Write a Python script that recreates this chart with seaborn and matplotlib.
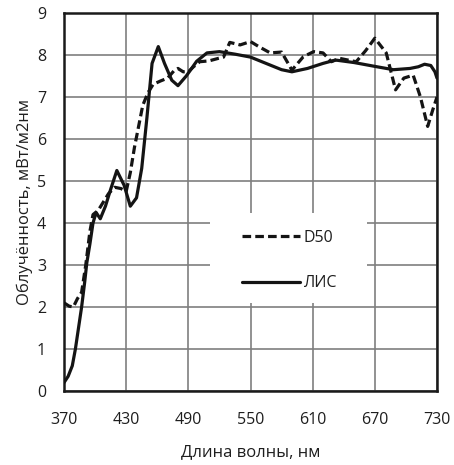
import matplotlib
matplotlib.use("Agg")
import matplotlib.pyplot as plt
from matplotlib.patches import Rectangle
import seaborn as sns
import pandas as pd

# ЛИС (solid)
lis_wl = [370, 374, 378, 381, 384, 387, 390, 392, 395, 398, 401, 405, 410, 415, 421,
          428, 434, 440, 445, 450, 455, 461, 467, 474, 480, 488, 498, 508, 520, 535,
          550, 565, 580, 590, 605, 620, 632, 650, 672, 688, 704, 712, 718, 724, 728, 730]
lis_val = [0.2, 0.35, 0.6, 1.0, 1.5, 2.0, 2.6, 3.05, 3.5, 4.0, 4.25, 4.1, 4.4, 4.8, 5.25,
           4.9, 4.4, 4.6, 5.3, 6.5, 7.8, 8.2, 7.8, 7.4, 7.27, 7.5, 7.85, 8.05, 8.08, 8.02,
           7.95, 7.8, 7.65, 7.6, 7.68, 7.8, 7.88, 7.82, 7.72, 7.65, 7.68, 7.72, 7.78, 7.75, 7.6, 7.45]

# D50 (dashed)
d50_wl = [370, 375, 379, 383, 387, 391, 395, 398, 403, 408, 413, 419, 425, 430, 434,
          438, 442, 446, 451, 456, 463, 470, 476, 480, 485, 490, 495, 501, 510, 519,
          524, 530, 540, 550, 558, 569, 580, 590, 601, 611, 620, 628, 636, 652, 661,
          670, 681, 690, 698, 707, 714, 721, 726, 730]
d50_val = [2.1, 2.02, 2.0, 2.2, 2.35, 3.0, 3.8, 4.2, 4.3, 4.5, 4.7, 4.85, 4.82, 4.75, 5.2,
           5.8, 6.3, 6.8, 7.1, 7.3, 7.38, 7.45, 7.62, 7.68, 7.6, 7.6, 7.72, 7.84, 7.86, 7.92,
           7.95, 8.3, 8.24, 8.32, 8.2, 8.05, 8.07, 7.64, 7.96, 8.08, 8.05, 7.84, 7.92, 7.84, 8.1,
           8.4, 8.05, 7.17, 7.45, 7.52, 7.0, 6.3, 6.7, 7.0]

x_ticks = [370, 430, 490, 550, 610, 670, 730]
y_ticks = list(range(0, 10))
x_label = "Длина волны, нм"
y_label = "Облучённость, мВт/м2нм"

sns.set_theme(style="white")
plt.rcParams["font.family"] = ["Open Sans", "DejaVu Sans"]

fig = plt.figure(figsize=(4.54, 4.65), dpi=100)
ax = fig.add_axes([64 / 454, 1 - 391 / 465, 373 / 454, 378 / 465])

df_d50 = pd.DataFrame({"wl": d50_wl, "val": d50_val})
df_lis = pd.DataFrame({"wl": lis_wl, "val": lis_val})

sns.lineplot(data=df_d50, x="wl", y="val", ax=ax, color="#141414", lw=2.3,
             linestyle=(0, (2.7, 1.3)), label="D50", zorder=3)
sns.lineplot(data=df_lis, x="wl", y="val", ax=ax, color="#141414", lw=2.3,
             label="ЛИС", zorder=3)

ax.set_xlim(370, 730)
ax.set_ylim(0, 9)
ax.set_xticks(x_ticks)
ax.set_yticks(y_ticks)
ax.grid(True, color="#7f7f7f", lw=1.2)
ax.set_axisbelow(True)
for s in ax.spines.values():
    s.set_color("#1a1a1a")
    s.set_linewidth(1.8)
    s.set_visible(True)
ax.tick_params(axis="both", length=0, labelsize=11.5, colors="#1e1e1e")
ax.tick_params(axis="x", pad=15)
ax.tick_params(axis="y", pad=13)
ax.set_xlabel(x_label, fontsize=12, color="#1e1e1e", labelpad=12)
ax.set_ylabel(y_label, fontsize=12, color="#1e1e1e", labelpad=3)

# white legend area covering the grid
ax.add_patch(Rectangle((146 / 373, 88 / 378), 157 / 373, 90 / 378,
                       transform=ax.transAxes, facecolor="white",
                       edgecolor="none", zorder=1.5))

leg = ax.legend(loc="center", bbox_to_anchor=(0.605, 0.345), frameon=False,
                fontsize=11.5, handlelength=3.6, labelspacing=1.85, borderpad=0.5,
                handletextpad=0.25)
leg.set_zorder(2.5)
for t in leg.get_texts():
    t.set_color("#1e1e1e")

fig.savefig("out.png", dpi=100)
